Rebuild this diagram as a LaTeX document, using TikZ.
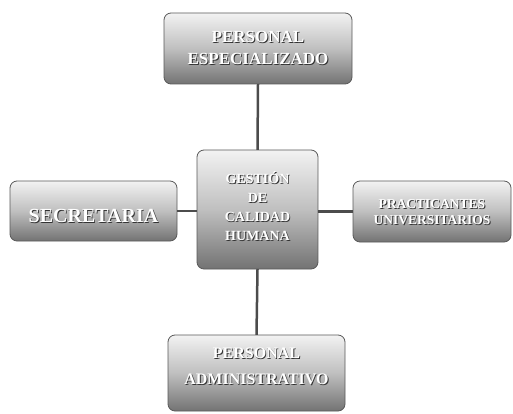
\documentclass[tikz,border=0pt]{standalone}
\usepackage{fontspec}
\setmainfont{Liberation Serif}
\usetikzlibrary{positioning}
\tikzset{
  box/.style={draw=black!65, line width=0.8pt, rounded corners=7pt, top color=white!95!black, bottom color=black!55, middle color=black!25, inner sep=0pt},
  lbl/.style={text=white, align=center, inner sep=0pt},
  shd/.style={text=black!80, align=center, inner sep=0pt},
  link/.style={draw=black!70, line width=2.5pt}
}
\newcommand{\boxlabel}[5]{% name, x, y, font, text
  \node[shd, font=#4] at (#2+0.9,#3+0.9) {#5};
  \node[lbl, font=#4] (#1) at (#2,#3) {#5};
}
\begin{document}
\begin{tikzpicture}[x=1pt,y=-1pt]
\useasboundingbox (0,0) rectangle (513,414);
% boxes
\path[box] (164,13) rectangle (352,84); \node[inner sep=0pt, minimum width=188pt, minimum height=71pt] (top) at (258,48.5) {};
\path[box] (10,181) rectangle (177,241); \node[inner sep=0pt, minimum width=167pt, minimum height=60pt] (left) at (93.5,211) {};
\path[box] (197,150) rectangle (318,269); \node[inner sep=0pt, minimum width=121pt, minimum height=119pt] (center) at (257.5,209.5) {};
\path[box] (353,181) rectangle (511,242); \node[inner sep=0pt, minimum width=158pt, minimum height=61pt] (right) at (432,211.5) {};
\path[box] (168,335) rectangle (345,411); \node[inner sep=0pt, minimum width=177pt, minimum height=76pt] (bottom) at (256.5,373) {};
% connectors
\draw[link] (top.south) -- (center.north);
\draw[link] (center.south) -- (bottom.north);
\draw[link] (left.east) -- (left.east -| center.west);
\draw[link] (center.east |- right.west) -- (right.west);
% labels
\boxlabel{tt}{258}{48}{\bfseries\fontsize{17}{22}\selectfont}{PERSONAL\\ ESPECIALIZADO}
\boxlabel{lt}{93.5}{216}{\bfseries\fontsize{20}{22}\selectfont}{SECRETARIA}
\boxlabel{ct}{257.5}{206}{\bfseries\fontsize{14}{19}\selectfont}{GESTIÓN\\ DE\\ CALIDAD\\ HUMANA}
\boxlabel{rt}{432}{212}{\bfseries\fontsize{13.5}{16}\selectfont}{PRACTICANTES\\ UNIVERSITARIOS}
\boxlabel{bt}{256.5}{366}{\bfseries\fontsize{16}{26}\selectfont}{PERSONAL\\ ADMINISTRATIVO}
\end{tikzpicture}
\end{document}
